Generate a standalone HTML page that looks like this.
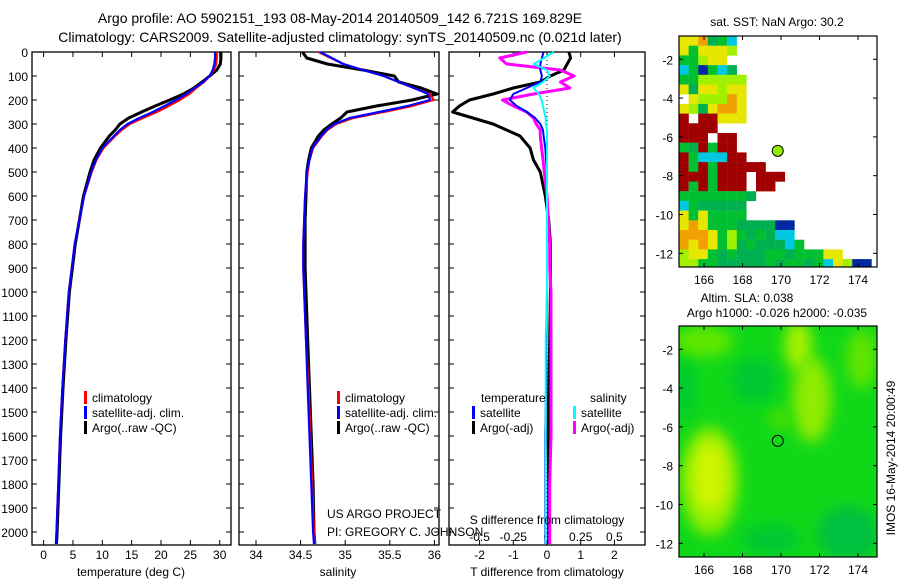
<!DOCTYPE html>
<html><head><meta charset="utf-8"><style>
html,body{margin:0;padding:0;background:#fff;}
svg{display:block;font-family:"Liberation Sans",sans-serif;}
</style></head><body>
<svg id="fig" width="900" height="580" viewBox="0 0 900 580">
<defs>
 <filter id="blur" x="-50%" y="-50%" width="200%" height="200%"><feGaussianBlur stdDeviation="7"/></filter>
 <clipPath id="clipSla"><rect x="679" y="326" width="198" height="231"/></clipPath>
 <clipPath id="clipSst"><rect x="679" y="36" width="198" height="231"/></clipPath>
</defs>
<text x="340" y="23" font-size="14" text-anchor="middle">Argo profile: AO 5902151_193 08-May-2014 20140509_142 6.721S 169.829E</text>
<text x="340" y="42" font-size="14" text-anchor="middle">Climatology: CARS2009. Satellite-adjusted climatology: synTS_20140509.nc (0.021d later)</text>
<g id="plots"></g>
</svg>
<script>
// ---- profile data ----
const depth = [0,25,50,75,100,125,150,175,200,225,250,275,300,325,350,400,450,500,600,700,800,900,1000,1200,1400,1600,1800,2000,2050];
const tempClim = [29.5,29.5,29.4,29.0,28.3,27.3,26.0,24.8,23.2,21.3,19.3,16.9,14.7,13.3,12.2,10.2,9.0,8.2,6.9,6.1,5.3,4.8,4.3,3.7,3.2,2.8,2.5,2.2,2.1];
const tempSat = [29.2,29.2,29.1,28.8,28.3,27.2,25.7,24.3,22.6,20.6,18.6,16.3,14.3,13.0,12.0,10.0,8.9,8.1,6.9,6.1,5.3,4.8,4.3,3.7,3.2,2.8,2.5,2.2,2.1];
const tempArgo = [30.2,30.2,30.1,29.5,28.3,27.0,25.6,23.8,21.5,19.0,16.7,14.5,13.0,12.2,11.2,9.7,8.6,7.9,6.8,6.1,5.4,4.9,4.4,3.8,3.3,2.9,2.6,2.3,2.2];
const salClim = [34.70,34.84,34.98,35.2,35.43,35.6,35.77,35.95,35.99,35.75,35.43,35.09,34.90,34.8,34.74,34.64,34.60,34.58,34.55,34.54,34.53,34.53,34.54,34.56,34.59,34.61,34.63,34.65,34.66];
const salSat = [34.72,34.85,34.98,35.2,35.43,35.6,35.77,35.93,35.95,35.7,35.38,35.05,34.88,34.79,34.73,34.63,34.60,34.57,34.55,34.54,34.53,34.53,34.54,34.56,34.58,34.60,34.62,34.64,34.65];
const salArgo = [34.52,34.57,34.80,35.20,35.55,35.60,35.85,36.03,35.75,35.35,35.02,34.95,34.85,34.76,34.70,34.62,34.59,34.57,34.56,34.55,34.55,34.55,34.56,34.58,34.60,34.62,34.64,34.65,34.66];
const tDiffSat = [-0.1,-0.15,-0.2,-0.2,-0.15,-0.2,-0.6,-1.0,-1.1,-0.9,-0.6,-0.35,-0.2,-0.12,-0.1,-0.05,-0.03,0,0,0,0,0,0,-0.02,-0.03,-0.05,-0.05,-0.05,-0.05];
const tDiffArgo = [0.65,0.7,0.6,0.5,0.1,-0.2,-1.0,-1.6,-2.3,-2.6,-2.8,-2.2,-1.6,-1.2,-0.8,-0.5,-0.4,-0.2,-0.05,0.05,0.1,0.1,0.1,0.08,0.05,0.03,0.05,0.05,0.05];
const sDiffSat = [0.05,-0.02,-0.1,0.0,0.02,-0.03,-0.1,-0.06,-0.04,-0.03,-0.02,-0.01,-0.01,0,0,0,0,0,0,0,0,0,0,-0.01,-0.01,-0.01,-0.01,-0.01,-0.01];
const sDiffArgo = [-0.15,-0.35,-0.3,0.1,0.2,0.1,0.17,-0.1,-0.33,-0.25,-0.15,-0.1,-0.08,-0.05,-0.05,-0.04,-0.03,-0.02,0,0.01,0.02,0.02,0.03,0.03,0.03,0.03,0.02,0.02,0.02];
const depthTicks = [0,100,200,300,400,500,600,700,800,900,1000,1100,1200,1300,1400,1500,1600,1700,1800,1900,2000];
const tempTicks = [0,5,10,15,20,25,30];
const salTicks = [34,34.5,35,35.5,36];
const tdTicks = [-2,-1,0,1,2];
const sdTicks = [-0.5,-0.25,0,0.25,0.5];
const sdTickLabels = ["-0.5","-0.25","0","0.25","0.5"];
// ---- map data (0.5 deg cells from 164.7E, -0.8 S) ----
const sstRows = [
 "yyoGgc","ygyyyl","gglyy","cgbgcG","gglllll","yGyylyy",".yllloy","ylGyooy","r.rryyy","rrrr","rrr.rr","gGrgrr","rgcccrr",
 "rgrgrrrrr","rrrgrrr.rrr","rgrgrrr.rr","gggggggG","cgGGGGG","ygygggg","yoygggGGGGbb","oooyglgGgGcc","oyoyglGgGGGcg",
 "lyygGgGGGggGgggyy","llggGGGGGgGggGgcylbb"];
const sstColors = {y:"#e6e600",o:"#f0a000",r:"#a00000",g:"#00c030",G:"#00b050",l:"#a0f000",c:"#00c8e0",b:"#0028a0"};
const lonTicks = [166,168,170,172,174];
const latTicks = [-2,-4,-6,-8,-10,-12];
const argoLon = 169.83, argoLat = -6.72;

const NS="http://www.w3.org/2000/svg";
const root=document.getElementById('plots');
function el(tag,attrs,parent){const e=document.createElementNS(NS,tag);for(const k in attrs)e.setAttribute(k,attrs[k]);(parent||root).appendChild(e);return e;}
const Y=d=>52+d*0.24;
const TOP=52,BOT=545;
const xT=t=>43.6+t*5.87;
const xS=s=>256+(s-34)*89.2;
const xTD=d=>547+d*33.7;
const xSD=d=>547+d*134.8;

function frame(x0,x1,name){
  const g=el('g',{});
  
  
  el('rect',{x:x0,y:TOP,width:x1-x0,height:BOT-TOP,fill:'none',stroke:'#000','stroke-width':1.3},g);
  depthTicks.forEach(d=>{el('line',{x1:x0,x2:x0+5,y1:Y(d),y2:Y(d),stroke:'#000'},g);el('line',{x1:x1,x2:x1-5,y1:Y(d),y2:Y(d),stroke:'#000'},g);});
  return g;
}
function xticks(g,ticks,fx,labels,ly){
  ticks.forEach((t,i)=>{const x=fx(t);
    el('line',{x1:x,x2:x,y1:TOP,y2:TOP+5,stroke:'#000'},g);
    el('line',{x1:x,x2:x,y1:BOT,y2:BOT-5,stroke:'#000'},g);
    if(labels){const tx=el('text',{x:x,y:ly,'font-size':12,'text-anchor':'middle'},g);tx.textContent=labels[i];
      
      }
  });
}
function line(vals,fx,color,w,name,parent){
  const pts=vals.map((v,i)=>fx(v).toFixed(1)+','+Y(depth[i]).toFixed(1)).join(' ');
  const p=el('polyline',{points:pts,fill:'none',stroke:color,'stroke-width':w,'stroke-linejoin':'round'},parent);
  
  
}
function txt(x,y,s,name,opts,parent){const t=el('text',Object.assign({x:x,y:y,'font-size':12},opts||{}),parent);t.textContent=s;
  
  
  return t;}
function legend(x,y,entries,g){entries.forEach((e,i)=>{
  const r=el('rect',{x:x,y:y+i*15-11,width:3,height:13,fill:e[1]},g);
  
  
  txt(x+8,y+i*15,e[0],'legend-entry',{},g);});}

depthTicks.forEach(d=>txt(28,Y(d)+5,String(d),'y-tick-label',{'text-anchor':'end'}));

const g1=frame(32,231,'temperature-panel');
xticks(g1,tempTicks,xT,tempTicks.map(String),559);
line(tempArgo,xT,'#000',3,'temp-argo-line',g1);
line(tempClim,xT,'#f00',2.2,'temp-climatology-line',g1);
line(tempSat,xT,'#00f',2.2,'temp-satellite-line',g1);
legend(84,402,[['climatology','#f00'],['satellite-adj. clim.','#00f'],['Argo(..raw -QC)','#000']],g1);
txt(131,576,'temperature (deg C)','x-axis-title-temperature',{'text-anchor':'middle'});

const g2=frame(239,439,'salinity-panel');
xticks(g2,salTicks,xS,salTicks.map(String),559);
line(salArgo,xS,'#000',3,'sal-argo-line',g2);
line(salClim,xS,'#f00',2.2,'sal-climatology-line',g2);
line(salSat,xS,'#00f',2.2,'sal-satellite-line',g2);
legend(337,402,[['climatology','#f00'],['satellite-adj. clim.','#00f'],['Argo(..raw -QC)','#000']],g2);
txt(338,576,'salinity','x-axis-title-salinity',{'text-anchor':'middle'});
txt(327,518,'US ARGO PROJECT','project-label',{});
txt(327,536,'PI: GREGORY C. JOHNSON','pi-label',{});

const g3=frame(449,645,'difference-panel');
xticks(g3,tdTicks,xTD,tdTicks.map(String),559);
sdTicks.forEach((t,i)=>txt(xSD(t),541,sdTickLabels[i],'s-diff-tick-label',{'text-anchor':'middle'},g3));
const z=el('line',{x1:547,x2:547,y1:TOP,y2:BOT,stroke:'#000','stroke-dasharray':'1,3'},g3);


line(tDiffArgo,xTD,'#000',3,'tdiff-argo-line',g3);
line(sDiffArgo,xSD,'#f0f',3,'sdiff-argo-line',g3);
line(tDiffSat,xTD,'#00f',2,'tdiff-satellite-line',g3);
line(sDiffSat,xSD,'#0ff',2,'sdiff-satellite-line',g3);
txt(481,402,'temperature','legend-title-temperature',{},g3);
txt(590,402,'salinity','legend-title-salinity',{},g3);
legend(472,417,[['satellite','#00f'],['Argo(-adj)','#000']],g3);
legend(573,417,[['satellite','#0ff'],['Argo(-adj)','#f0f']],g3);
txt(547,524,'S difference from climatology','s-diff-axis-title',{'text-anchor':'middle'});
txt(547,576,'T difference from climatology','t-diff-axis-title',{'text-anchor':'middle'});

const MX0=679,MX1=877,MY0=36,MY1=267;
const mx=lon=>MX0+(lon-164.7)*19.25;
const my=lat=>MY0+(-0.8-lat)*19.4;
function mapFrame(g,oy){
  el('rect',{x:MX0,y:MY0+oy,width:MX1-MX0,height:MY1-MY0,fill:'none',stroke:'#000','stroke-width':1.2},g);
  lonTicks.forEach(l=>{const x=mx(l);el('line',{x1:x,x2:x,y1:MY0+oy,y2:MY0+oy+4,stroke:'#000'},g);el('line',{x1:x,x2:x,y1:MY1+oy,y2:MY1+oy-4,stroke:'#000'},g);
    txt(x,MY1+oy+17,String(l),'lon-tick-label',{'text-anchor':'middle'},g);});
  latTicks.forEach(l=>{const y=my(l)+oy;el('line',{x1:MX0,x2:MX0+4,y1:y,y2:y,stroke:'#000'},g);el('line',{x1:MX1,x2:MX1-4,y1:y,y2:y,stroke:'#000'},g);
    txt(MX0-6,y+5,String(l),'lat-tick-label',{'text-anchor':'end'},g);});
}
const gm1=el('g',{});


const cells=el('g',{'clip-path':'url(#clipSst)'},gm1);
sstRows.forEach((row,j)=>{[...row].forEach((c,i)=>{if(c==='.')return;
  const r=el('rect',{x:mx(164.7+0.5*i),y:my(-0.8-0.5*j),width:9.8,height:9.9,fill:sstColors[c]},cells);
  
  });});
mapFrame(gm1,0);
const c1=el('circle',{cx:mx(argoLon),cy:my(argoLat),r:5.5,fill:'#90f000',stroke:'#000','stroke-width':1},gm1);


txt(777,26,'sat. SST: NaN Argo: 30.2','sst-map-title',{'text-anchor':'middle'});

const gm2=el('g',{});


const cg=el('g',{'clip-path':'url(#clipSla)'},gm2);
el('rect',{x:MX0,y:MY0+290,width:MX1-MX0,height:MY1-MY0,fill:'#10d818'},cg);
const blobs=[[166.0,-1.6,1.5,0.8,'#60e800'],[170.9,-1.8,0.7,1.3,'#a8f000'],[171.6,-4.6,1.0,2.2,'#90ec00'],[174.2,-2.5,0.8,1.5,'#60e400'],
 [166.3,-8.8,1.5,2.8,'#90ee00'],[166.3,-8.6,0.9,1.8,'#d0f400'],[170.0,-5.6,0.6,0.5,'#50e000'],[168.6,-3.6,1.2,1.2,'#00c830'],
 [173.5,-11.5,1.6,1.4,'#00c040'],[169.5,-11.8,1.5,0.8,'#00c830'],[165.0,-4.0,0.5,1.5,'#00c830']];
blobs.forEach(b=>{const e=el('ellipse',{cx:mx(b[0]),cy:my(b[1])+290,rx:b[2]*19.3,ry:b[3]*19.4,fill:b[4],filter:'url(#blur)'},cg);
  
  });
mapFrame(gm2,290);
const c2=el('circle',{cx:mx(argoLon),cy:my(argoLat)+290,r:5.5,fill:'none',stroke:'#000','stroke-width':1},gm2);


txt(747,302,'Altim. SLA: 0.038','sla-map-title',{'text-anchor':'middle'});
txt(777,317,'Argo h1000: -0.026 h2000: -0.035','sla-map-subtitle',{'text-anchor':'middle'});
txt(895,458,'IMOS 16-May-2014 20:00:49','imos-timestamp',{'text-anchor':'middle',transform:'rotate(-90 895 458)'});
</script>
</body></html>
